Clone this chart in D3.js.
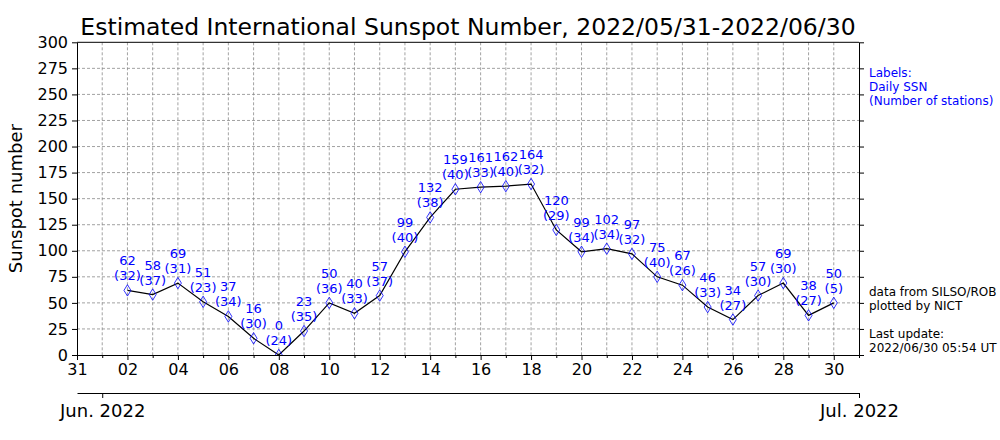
<!DOCTYPE html>
<html><head><meta charset="utf-8">
<script src="https://cdn.jsdelivr.net/npm/d3@7"></script>
<style>
body{margin:0;background:#fff;}
svg{display:block;font-family:"DejaVu Sans",sans-serif;}
.grid line{stroke:#8a8a8a;stroke-width:0.8;stroke-dasharray:3,2;}
.axis path,.axis line{stroke:#000;}
.axis text{fill:#000;}
</style></head><body>
<svg id="c" width="1000" height="440"></svg>
<script>
// ---- data ----
const titleText = "Estimated International Sunspot Number, 2022/05/31-2022/06/30";
const days = [2,3,4,5,6,7,8,9,10,11,12,13,14,15,16,17,18,19,20,21,22,23,24,25,26,27,28,29,30]; // June 2022
const ssn = [62,58,69,51,37,16,0,23,50,40,57,99,132,159,161,162,164,120,99,102,97,75,67,46,34,57,69,38,50];
const stations = [32,37,31,23,34,30,24,35,36,33,37,40,38,40,33,40,32,29,34,34,32,40,26,33,27,30,30,27,5];
const yTicks = [0,25,50,75,100,125,150,175,200,225,250,275,300];
const monthLabels = ["Jun. 2022","Jul. 2022"];
const noteTop = ["Labels:","Daily SSN","(Number of stations)"];
const noteBottom1 = ["data from SILSO/ROB","plotted by NICT"];
const noteBottom2 = ["Last update:","2022/06/30 05:54 UT"];

const svg = d3.select("#c");
const L=77, R=859, T=42.3, B=355;
const x = d3.scaleUtc().domain([new Date(Date.UTC(2022,4,31)), new Date(Date.UTC(2022,6,1))]).range([L,R]);
const y = d3.scaleLinear().domain([0,300]).range([B,T]);
const dayDate = d => new Date(Date.UTC(2022,5,d));

const allDays = d3.utcDay.range(new Date(Date.UTC(2022,4,31)), new Date(Date.UTC(2022,6,2)));
const majorDays = allDays.filter((d,i)=> i%2===0 && d < new Date(Date.UTC(2022,6,1)));
const minorDays = allDays.filter((d,i)=> i%2===1);

// grid
const g = svg.append("g").attr("class","grid");
g.selectAll("line.v").data(allDays.filter(d=>+d>+x.domain()[0] && +d<+x.domain()[1])).join("line").attr("class","v")
  .attr("x1",d=>x(d)).attr("x2",d=>x(d)).attr("y1",T).attr("y2",B);
g.selectAll("line.h").data(yTicks.filter(v=>v>0&&v<300)).join("line").attr("class","h")
  .attr("x1",L).attr("x2",R).attr("y1",d=>y(d)).attr("y2",d=>y(d));

// axes
const fmt = d3.utcFormat("%d");
svg.append("g").attr("class","axis").attr("transform",`translate(0,${B})`)
  .call(d3.axisBottom(x).tickValues(majorDays).tickFormat(fmt).tickSize(5).tickSizeOuter(0).tickPadding(4))
  .call(a=>a.selectAll("text").attr("font-size",16).attr("font-family","DejaVu Sans"));
svg.append("g").attr("class","axis").attr("transform",`translate(0,${B})`)
  .call(d3.axisBottom(x).tickValues(minorDays).tickFormat("").tickSize(3).tickSizeOuter(0))
  .call(a=>a.select(".domain").remove());
svg.append("g").attr("class","axis").attr("transform",`translate(${L},0)`)
  .call(d3.axisLeft(y).tickValues(yTicks).tickSize(5).tickSizeOuter(0).tickPadding(4))
  .call(a=>a.selectAll("text").attr("font-size",16).attr("font-family","DejaVu Sans"));
svg.append("g").attr("class","axis").attr("transform",`translate(${R},0)`)
  .call(d3.axisRight(y).tickValues(yTicks).tickFormat("").tickSize(5).tickSizeOuter(0));
svg.append("line").attr("x1",L).attr("x2",R).attr("y1",T).attr("y2",T).attr("stroke","#000");

// secondary month axis
const monthDates = [new Date(Date.UTC(2022,5,1)), new Date(Date.UTC(2022,6,1))];
svg.append("g").attr("class","axis").attr("transform","translate(0,393)")
  .call(d3.axisBottom(x).tickValues(monthDates).tickFormat((d,i)=>monthLabels[i]).tickSize(5).tickSizeOuter(0).tickPadding(6))
  .call(a=>a.selectAll("text").attr("font-size",18).attr("font-family","DejaVu Sans"));

// clip
svg.append("clipPath").attr("id","pc").append("rect").attr("x",L).attr("y",T).attr("width",R-L).attr("height",B-T);

const pts = days.map((d,i)=>({d:dayDate(d), v:ssn[i], n:stations[i]}));
const plot = svg.append("g").attr("clip-path","url(#pc)");
plot.append("path").datum(pts).attr("fill","none").attr("stroke","#000").attr("stroke-width",1.2)
  .attr("d", d3.line().x(p=>x(p.d)).y(p=>y(p.v)));
plot.selectAll("path.m").data(pts).join("path").attr("class","m")
  .attr("d", p=>{const cx=x(p.d), cy=y(p.v); return `M${cx},${cy-5.7}L${cx+3.5},${cy}L${cx},${cy+5.7}L${cx-3.5},${cy}Z`;})
  .attr("fill","none").attr("stroke","#0000ff").attr("stroke-width",0.8);

const lab = svg.append("g").attr("fill","#0000ff").attr("font-size",13).attr("text-anchor","middle");
lab.selectAll("text.v").data(pts).join("text").attr("class","v")
  .attr("x",p=>x(p.d)).attr("y",p=>y(p.v)-25).text(p=>p.v);
lab.selectAll("text.n").data(pts).join("text").attr("class","n")
  .attr("x",p=>x(p.d)).attr("y",p=>y(p.v)-10).text(p=>`(${p.n})`);

// title & y label
svg.append("text").attr("x",(L+R)/2).attr("y",35).attr("text-anchor","middle").attr("font-size",23.5).text(titleText);
svg.append("text").attr("transform",`translate(22,${(T+B)/2}) rotate(-90)`).attr("text-anchor","middle").attr("font-size",18).text("Sunspot number");

// notes
const nt = svg.append("g").attr("font-size",12);
nt.selectAll("text.a").data(noteTop).join("text").attr("class","a").attr("x",869).attr("y",(d,i)=>77+i*14).attr("fill","#0000ff").text(d=>d);
nt.selectAll("text.b").data(noteBottom1).join("text").attr("class","b").attr("x",869).attr("y",(d,i)=>296+i*14).attr("fill","#000").text(d=>d);
nt.selectAll("text.c").data(noteBottom2).join("text").attr("class","c").attr("x",869).attr("y",(d,i)=>338+i*14).attr("fill","#000").text(d=>d);
</script></body></html>
